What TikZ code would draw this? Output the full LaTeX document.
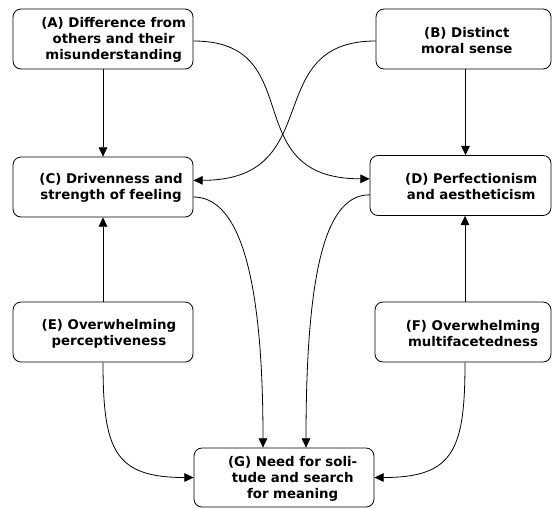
\documentclass[tikz,border=0pt]{standalone}
\usepackage{fontspec}
\newfontfamily\boxfont{DejaVu Sans}
\usetikzlibrary{arrows.meta}

\begin{document}
\begin{tikzpicture}[
    x=0.75pt, y=-0.75pt,
    box/.style={draw, line width=0.6pt, rounded corners=6pt, minimum width=135pt, minimum height=45pt},
    lbl/.style={align=center, inner sep=0pt, font=\boxfont\bfseries\fontsize{10}{12}\selectfont},
    link/.style={-{Triangle[length=7pt, width=6.5pt]}, line width=0.6pt}
  ]
  \useasboundingbox (0,0) rectangle (552,508);

  % boxes
  \node[box] (A) at (103,39) {};
  \node[box, minimum width=131.25pt] (B) at (463.5,39) {};
  \node[box] (C) at (103,187) {};
  \node[box, minimum width=135.75pt] (D) at (460.5,185.5) {};
  \node[box] (E) at (103,332) {};
  \node[box, minimum width=132pt] (F) at (463,332) {};
  \node[box, minimum height=44.25pt] (G) at (284,477.5) {};

  % texts
  \node[lbl] (A-txt) at ([xshift=8pt, yshift=-1pt]A) {(A) Difference from\\others and their\\misunderstanding};
  \node[lbl] (B-txt) at ([xshift=2.5pt, yshift=-1pt]B) {(B) Distinct\\moral sense};
  \node[lbl] (C-txt) at ([xshift=6pt, yshift=-1pt]C) {(C) Drivenness and\\strength of feeling};
  \node[lbl] (D-txt) at ([xshift=8pt, yshift=-1pt]D) {(D) Perfectionism\\and aestheticism};
  \node[lbl] (E-txt) at ([xshift=4.5pt, yshift=-1pt]E) {(E) Overwhelming\\perceptiveness};
  \node[lbl] (F-txt) at ([xshift=7.5pt, yshift=-1pt]F) {(F) Overwhelming\\multifacetedness};
  \node[lbl] (G-txt) at ([xshift=6.5pt, yshift=-1pt]G) {(G) Need for soli-\\tude and search\\for meaning};

  % straight links
  \draw[link] (A) -- (C);
  \draw[link] (E) -- (C);
  \draw[link] ([xshift=1.5pt]B.south) -- ([xshift=1.5pt]B.south |- D.north);
  \draw[link] ([xshift=1.5pt]F.north) -- ([xshift=1.5pt]F.north |- D.south);

  % crossing links
  \draw[link] ([yshift=-1.5pt]A.east) .. controls +(117,0) and +(-135,0) .. ([yshift=5pt]D.west);
  \draw[link] ([yshift=-1.5pt]B.west) .. controls +(-117,0) and +(135,0) .. ([yshift=5pt]C.east);

  % links into G
  \draw[link] ([yshift=-7.5pt]C.east) .. controls +(41,0) and +(0,-188) .. ([xshift=-15.75pt]G.north);
  \draw[link] ([yshift=-7pt]D.west) .. controls +(-41,0) and +(0,-188) .. ([xshift=16.5pt]G.north);
  \draw[link] (E.south) .. controls +(0,88) and +(-79,0) .. (G.west);
  \draw[link] ([xshift=1.5pt]F.south) .. controls +(0,88) and +(79,0) .. (G.east);
\end{tikzpicture}
\end{document}
